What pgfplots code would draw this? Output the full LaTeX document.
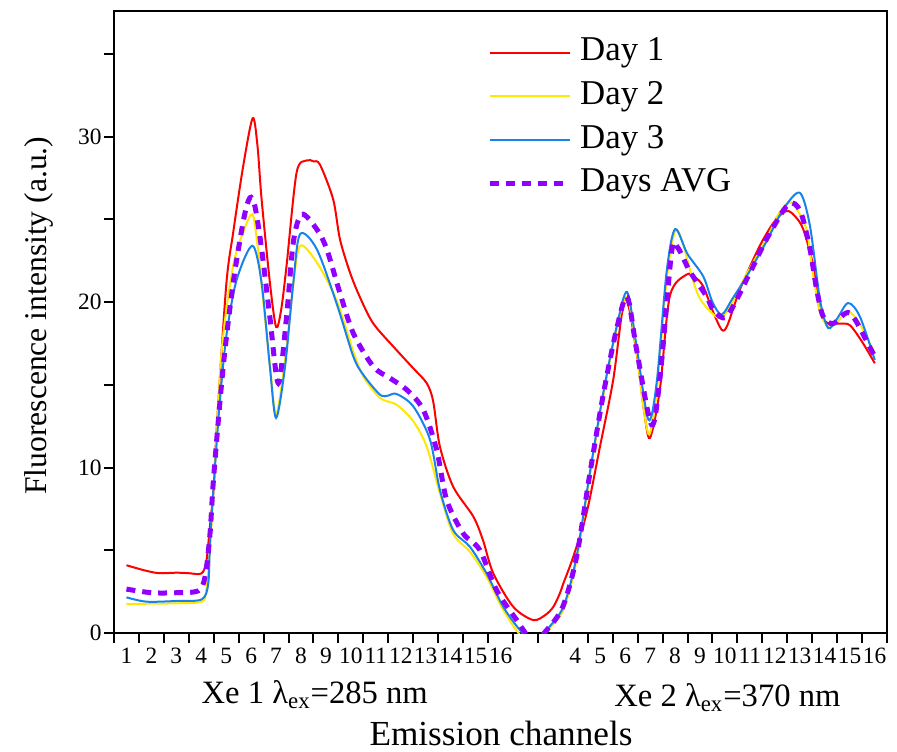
\documentclass[border=0pt]{standalone}
\usepackage{fontspec}
\setmainfont{Liberation Serif}
\usepackage{pgfplots}
\pgfplotsset{compat=1.18}
\definecolor{cRed}{RGB}{255,0,0}
\definecolor{cYel}{RGB}{255,232,0}
\definecolor{cBlu}{RGB}{24,130,235}
\definecolor{cPur}{RGB}{145,0,255}
\begin{document}
\begin{tikzpicture}
\begin{axis}[
  scale only axis, width=386.5pt, height=311.2pt,
  xmin=0, xmax=31, ymin=0, ymax=37.6,
  clip mode=individual,
  axis line style={line width=1pt},
  every tick/.style={black, line width=1pt},
  tick align=outside, major tick length=5pt,
  xtick pos=bottom, ytick pos=left,
  xtick={0,...,31}, x tick label as interval,
  xticklabels={1,2,3,4,5,6,7,8,9,10,11,12,13,14,15,16,{},{},4,5,6,7,8,9,10,11,12,13,14,15,16},
  ytick={0,5,...,35}, yticklabels={0,,10,,20,,30,},
  /pgf/number format/assume math mode=true,
  ticklabel style={font=\fontsize{11.7}{14}\selectfont},
  xticklabel style={inner sep=1pt, yshift=-1.2pt},
  yticklabel style={inner sep=1pt},
  ylabel={Fluorescence intensity (a.u.)},
  ylabel style={font=\fontsize{15.8}{19}\selectfont, at={(axis description cs:-0.097,0.51)}, anchor=center},
  legend style={at={(0.4745,0.965)}, anchor=north west, draw=none, fill=none,
     font=\fontsize{17.4}{20}\selectfont, row sep=5.8pt,
     nodes={inner sep=0pt, text height=12pt, text depth=4pt},
     /tikz/every odd column/.append style={column sep=4pt}},
  legend cell align=left,
  legend image code/.code={\draw[#1] (0pt,0pt) -- (40pt,0pt);},
]
\addplot[cRed, line width=1pt, smooth, tension=0.5] coordinates {
(0.5,4.1)(1.2,3.8)(1.8,3.62)(2.5,3.65)(3.0,3.62)(3.5,3.6)(3.7,4.3)(3.85,6.5)(4.0,8.8)(4.12,12.4)(4.5,21.0)(4.78,24.2)(5.18,28.2)(5.56,31.1)(5.75,29.5)(5.92,26.2)(6.25,21.2)(6.5,18.5)(6.7,19.5)(6.92,22.2)(7.32,27.8)(7.72,28.55)(8.0,28.5)(8.26,28.3)(8.79,26.2)(9.06,23.8)(9.46,21.8)(9.86,20.3)(10.4,18.7)(11.33,17.1)(12.0,16.0)(12.54,15.1)(12.8,14.0)(13.07,11.27)(13.6,8.85)(14.41,7.04)(14.8,5.6)(15.21,3.61)(16.01,1.59)(16.81,0.79)(17.3,1.1)(17.62,1.59)(17.88,2.4)(18.02,3.0)(18.42,4.62)(18.95,7.24)(19.49,11.27)(20.02,15.3)(20.5,20.2)(20.96,16.9)(21.25,13.5)(21.49,11.78)(21.89,14.7)(22.29,20.35)(22.96,21.66)(23.3,21.5)(23.63,20.95)(24.0,19.5)(24.37,18.33)(24.6,18.6)(25.1,20.75)(25.9,23.4)(26.5,24.9)(26.97,25.5)(27.3,25.2)(27.64,24.4)(28.04,22.2)(28.3,19.5)(28.6,18.75)(29.11,18.7)(29.51,18.6)(30.0,17.6)(30.51,16.3)
};
\addlegendentry{Day 1}
\addplot[cYel, line width=1pt, smooth, tension=0.5] coordinates {
(0.5,1.75)(1.5,1.78)(2.5,1.8)(3.52,1.9)(3.7,2.6)(3.85,5.0)(4.0,9.0)(4.32,17.1)(4.78,22.2)(5.2,24.3)(5.55,25.3)(5.75,23.5)(5.92,21.0)(6.25,16.3)(6.5,13.2)(6.86,16.5)(7.19,21.0)(7.46,23.4)(8.13,22.4)(8.93,20.1)(9.6,17.0)(10.0,15.5)(10.67,14.2)(11.33,13.8)(12.0,12.8)(12.54,11.27)(13.07,8.45)(13.6,6.0)(14.27,4.92)(14.94,3.4)(15.61,1.4)(16.28,-0.1)(16.9,-0.8)(17.35,0.1)(18.02,1.4)(18.55,4.4)(19.08,9.5)(19.62,14.3)(20.16,18.4)(20.58,20.3)(20.96,17.0)(21.2,14.0)(21.46,12.0)(21.76,14.5)(22.16,21.3)(22.5,24.3)(22.8,23.6)(23.2,21.4)(23.5,20.2)(24.0,19.3)(24.37,19.04)(24.8,20.0)(25.37,21.7)(26.17,23.8)(26.6,25.2)(27.04,26.0)(27.3,25.8)(27.77,24.4)(28.0,22.0)(28.3,19.5)(28.64,18.5)(29.0,18.8)(29.44,19.44)(29.9,18.7)(30.51,16.9)
};
\addlegendentry{Day 2}
\addplot[cBlu, line width=1pt, smooth, tension=0.5] coordinates {
(0.5,2.16)(1.3,1.9)(2.5,1.94)(3.52,2.04)(3.78,3.0)(3.85,5.5)(4.0,9.0)(4.25,14.1)(4.52,18.1)(4.92,21.35)(5.55,23.4)(5.92,21.15)(6.25,16.1)(6.5,13.0)(6.86,16.1)(7.19,21.15)(7.46,24.1)(8.13,23.2)(8.93,19.9)(9.6,16.7)(10.0,15.6)(10.67,14.4)(11.0,14.35)(11.33,14.45)(12.0,13.7)(12.67,11.7)(13.07,8.65)(13.6,6.23)(14.27,5.22)(14.94,3.61)(15.61,1.59)(16.28,0.18)(16.9,-0.7)(17.35,0.18)(18.02,1.59)(18.55,4.62)(19.08,9.66)(19.62,14.5)(20.16,18.53)(20.58,20.6)(20.96,17.3)(21.43,12.9)(21.76,15.1)(22.16,21.8)(22.5,24.4)(23.0,22.9)(23.63,21.55)(24.0,20.0)(24.37,19.24)(24.8,20.2)(25.37,21.55)(26.17,23.67)(26.84,25.6)(27.5,26.6)(27.91,24.6)(28.31,20.15)(28.64,18.43)(29.0,19.0)(29.44,19.94)(29.91,19.13)(30.51,16.5)
};
\addlegendentry{Day 3}
\addplot[cPur, line width=2.5pt, dash pattern=on 4.5pt off 3.5pt, smooth, tension=0.5] coordinates {
(0.5,2.66)(1.5,2.44)(2.5,2.44)(3.38,2.56)(3.65,3.4)(3.85,6.0)(4.0,9.5)(4.38,16.1)(4.78,21.15)(5.2,25.0)(5.45,26.3)(5.65,25.8)(5.92,23.2)(6.25,19.1)(6.59,15.1)(6.92,19.1)(7.19,23.6)(7.53,25.3)(8.13,24.4)(8.53,23.2)(9.06,20.55)(9.6,18.1)(10.4,16.1)(11.07,15.4)(11.74,14.7)(12.4,13.5)(12.94,11.07)(13.34,8.05)(14.0,6.03)(14.67,5.02)(15.34,2.6)(16.15,0.79)(16.8,-0.5)(17.35,0.18)(18.0,1.6)(18.55,4.6)(19.08,9.6)(19.62,14.4)(20.16,18.4)(20.58,20.3)(20.96,17.1)(21.56,12.58)(21.9,15.5)(22.36,23.0)(22.6,23.3)(23.09,21.86)(23.76,20.35)(24.03,19.54)(24.57,19.13)(25.5,21.76)(26.17,23.8)(27.04,25.9)(27.52,25.5)(27.91,23.2)(28.18,20.75)(28.44,19.13)(28.84,18.7)(29.51,19.34)(30.3,17.3)(30.51,16.7)
};
\addlegendentry{Days AVG}
\node[font=\fontsize{16.3}{19}\selectfont, anchor=base] at (axis cs:8.05,0) [yshift=-35.2pt] {Xe 1 λ\textsubscript{ex}=285 nm};
\node[font=\fontsize{16.3}{19}\selectfont, anchor=base] at (axis cs:24.6,0) [yshift=-36.8pt] {Xe 2 λ\textsubscript{ex}=370 nm};
\node[font=\fontsize{17.6}{20}\selectfont, anchor=base] at (axis cs:15.52,0) [yshift=-56pt] {Emission channels};
\end{axis}
\pgfresetboundingbox
\path[use as bounding box] ([shift={(-57pt,-59pt)}]current axis.south west) rectangle ([shift={(5pt,5.35pt)}]current axis.north east);
\end{tikzpicture}
\end{document}
